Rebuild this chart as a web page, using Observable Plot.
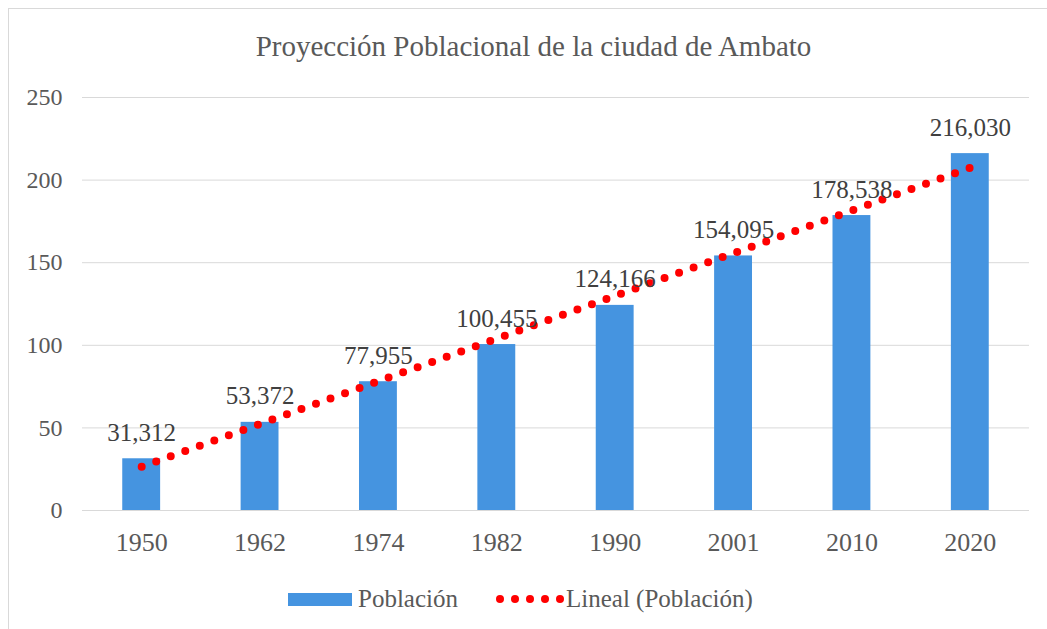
<!DOCTYPE html>
<html>
<head>
<meta charset="utf-8">
<script src="https://cdn.jsdelivr.net/npm/d3@7"></script>
<script src="https://cdn.jsdelivr.net/npm/@observablehq/plot@0.6"></script>
<style>
  html, body { margin: 0; padding: 0; background: #fff; }
  #wrap { position: relative; width: 1047px; height: 629px; overflow: hidden; font-family: "Liberation Serif", "Times New Roman", serif; color: #595959; }
  #frame { position: absolute; left: 8px; top: 8px; width: 1100px; height: 700px; border-left: 1px solid #d9d9d9; border-top: 1px solid #d9d9d9; }
  #title { position: absolute; left: 0; width: 1067px; top: 29px; text-align: center; font-size: 29px; line-height: 34px; white-space: nowrap; }
  #chart { position: absolute; left: 0; top: 0; }
  #chart svg text { font-family: "Liberation Serif", "Times New Roman", serif !important; }
  #legend { position: absolute; top: 584px; left: 288px; font-size: 25px; line-height: 30px; white-space: nowrap; display: flex; align-items: center; }
  .sw { display: inline-block; width: 64px; height: 13px; background: #4594e0; margin-right: 6px; }
  .dots { display: inline-flex; gap: 7px; margin-left: 38px; margin-right: 2px; }
  .dots span { display: inline-block; width: 8px; height: 8px; border-radius: 50%; background: #ff0000; }
</style>
</head>
<body>
<div id="wrap">
  <div id="frame"></div>
  <div id="chart"></div>
  <div id="title">Proyección Poblacional de la ciudad de Ambato</div>
  <div id="legend"><span class="sw"></span><span>Población</span><span class="dots"><span></span><span></span><span></span><span></span><span></span></span><span>Lineal (Población)</span></div>
</div>
<script>
const years = ["1950", "1962", "1974", "1982", "1990", "2001", "2010", "2020"];
const poblacion = [31.312, 53.372, 77.955, 100.455, 124.166, 154.095, 178.538, 216.030];
const yTicks = [0, 50, 100, 150, 200, 250];

const data = years.map((y, i) => ({i: i + 1, year: y, value: poblacion[i]}));
const fmt = v => d3.format(".3f")(v).replace(".", ",");
const halfBar = 0.16;

const chart = Plot.plot({
  width: 1047,
  height: 629,
  marginLeft: 82,
  marginRight: 18,
  marginTop: 97,
  marginBottom: 119,
  style: {fontFamily: "'Liberation Serif', 'Times New Roman', serif", color: "#595959", background: "transparent"},
  x: {domain: [0.5, 8.5], ticks: d3.range(1, 9), tickFormat: i => years[i - 1], tickSize: 0, tickPadding: 22, label: null},
  y: {domain: [0, 250], ticks: yTicks, tickSize: 0, tickPadding: 20, label: null},
  marks: [
    Plot.gridY(yTicks, {stroke: "#d9d9d9", strokeOpacity: 1, strokeWidth: 1}),
    Plot.rectY(data, {x1: d => d.i - halfBar, x2: d => d.i + halfBar, y1: 0, y2: "value", fill: "#4594e0"}),
    Plot.linearRegressionY(data, {x: "i", y: "value", stroke: "#ff0000", strokeWidth: 8, strokeLinecap: "round", strokeDasharray: "0 15.44", ci: 0}),
    Plot.text(data, {x: "i", y: "value", text: d => fmt(d.value), dy: -26, fontSize: 25, fill: "#404040"}),
    Plot.axisX({ticks: d3.range(1, 9), tickFormat: i => years[i - 1], tickSize: 0, tickPadding: 22, fontSize: 26, anchor: "bottom"}),
    Plot.axisY({ticks: yTicks, tickSize: 0, tickPadding: 20, fontSize: 24, anchor: "left"})
  ]
});
document.getElementById("chart").appendChild(chart);
</script>
</body>
</html>
